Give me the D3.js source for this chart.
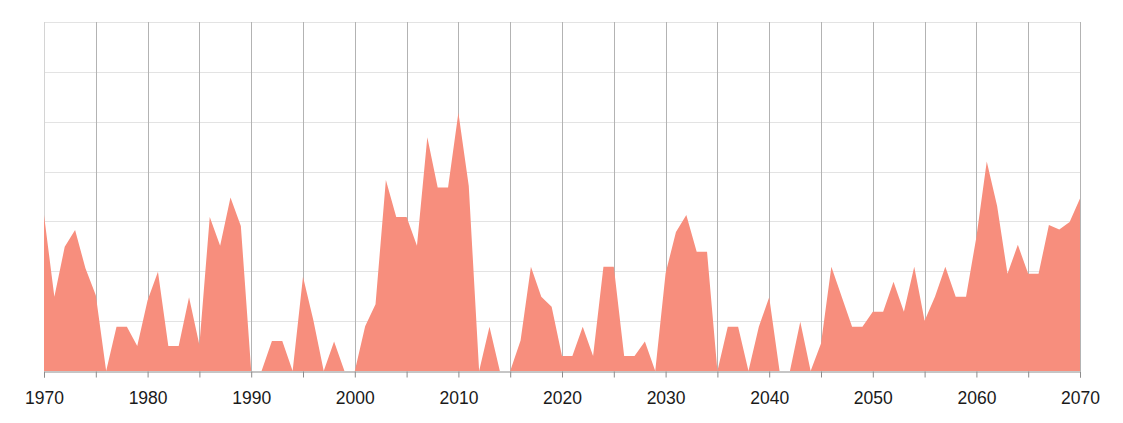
<!DOCTYPE html>
<html>
<head>
<meta charset="utf-8">
<script src="https://cdn.jsdelivr.net/npm/d3@7"></script>
<style>
  html, body { margin: 0; padding: 0; background: #fff; }
  svg { display: block; }
</style>
</head>
<body>
<svg id="chart" width="1123" height="423"></svg>
<script>
const years = d3.range(1970, 2071);
const values = [
  31.3, 14.9, 24.9, 28.3, 20.6, 15.2, 0, 8.9, 8.9, 5.0,
  14.2, 19.9, 5.0, 5.0, 14.8, 5.2, 30.9, 25.1, 34.8, 29.1,
  0, 0, 6.0, 6.0, 0, 18.9, 10.2, 0, 5.9, 0,
  0, 9.0, 13.4, 38.3, 30.9, 30.9, 25.1, 46.9, 36.8, 36.8,
  51.8, 37.1, 0, 8.9, 0, 0, 6.1, 20.9, 14.9, 12.9,
  3.0, 3.0, 8.9, 3.0, 20.9, 20.9, 3.0, 3.0, 5.9, 0,
  19.6, 27.9, 31.3, 23.9, 23.9, 0, 8.9, 8.9, 0, 8.9,
  14.8, 0, 0, 9.9, 0, 5.5, 20.9, 14.9, 8.9, 8.9,
  11.9, 11.9, 17.9, 11.9, 20.9, 10.1, 14.9, 20.9, 14.9, 14.9,
  26.9, 42.0, 33.1, 19.5, 25.3, 19.5, 19.5, 29.3, 28.4, 29.9,
  34.6
];
const yTicks = [0, 10, 20, 30, 40, 50, 60, 70];
const xGridYears = d3.range(1970, 2071, 5);
const xLabelYears = d3.range(1970, 2071, 10);

const data = years.map((y, i) => ({ year: y, value: values[i] }));

const margin = { left: 44, right: 43, top: 22, bottom: 52 };
const W = 1123, H = 423;
const svg = d3.select("#chart");

const x = d3.scaleLinear().domain([1970, 2070]).range([margin.left, W - margin.right]);
const y = d3.scaleLinear().domain([0, 70]).range([H - margin.bottom, margin.top]);

// horizontal gridlines
svg.append("g").selectAll("line").data(yTicks.slice(1)).join("line")
  .attr("x1", x(1970)).attr("x2", x(2070))
  .attr("y1", d => Math.round(y(d)) + 0.5).attr("y2", d => Math.round(y(d)) + 0.5)
  .attr("stroke", "#e3e3e3").attr("stroke-width", 1);

// vertical gridlines
svg.append("g").selectAll("line").data(xGridYears).join("line")
  .attr("x1", d => Math.round(x(d)) + 0.5).attr("x2", d => Math.round(x(d)) + 0.5)
  .attr("y1", y(70)).attr("y2", y(0))
  .attr("stroke", d => d === 1970 ? "#d4d4d4" : "#b3b3b3").attr("stroke-width", 1);

// area
const area = d3.area()
  .x(d => x(d.year))
  .y0(y(0))
  .y1(d => y(d.value));
svg.append("path").datum(data).attr("d", area).attr("fill", "#f78e7d");

// x axis
const axis = d3.axisBottom(x)
  .tickValues(xGridYears)
  .tickSize(6)
  .tickFormat(d => xLabelYears.includes(d) ? d : "");
const gx = svg.append("g").attr("transform", `translate(0,${Math.round(y(0)) + 0.5})`).call(axis);
gx.select(".domain").attr("stroke", "#8c8c8c");
gx.selectAll(".tick line").attr("stroke", "#8c8c8c");
gx.selectAll(".tick text")
  .attr("fill", "#1a1a1a")
  .attr("font-family", "'Liberation Sans', Arial, sans-serif")
  .attr("font-size", "17.5px")
  .attr("y", 20)
  .attr("dy", "0.71em");
</script>
</body>
</html>
